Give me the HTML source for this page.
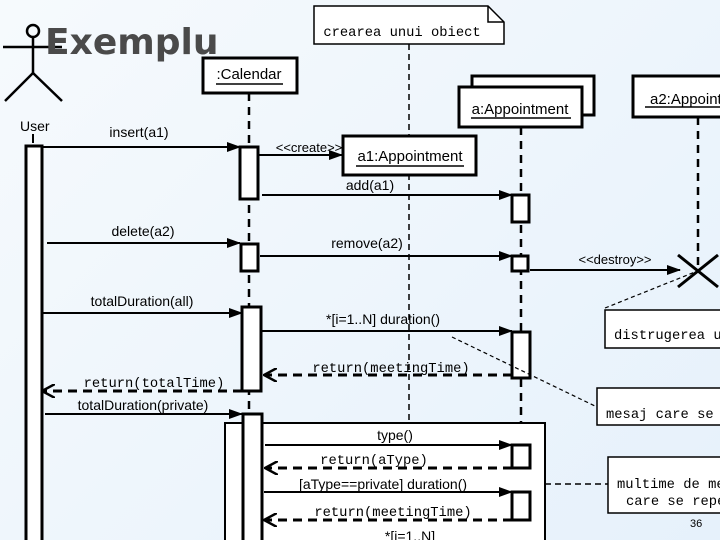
<!DOCTYPE html>
<html><head><meta charset="utf-8"><style>
html,body{margin:0;padding:0;}
body{width:720px;height:540px;overflow:hidden;background:linear-gradient(135deg,#f6fafd,#e6f1fb);}
svg{display:block}
.s{font-family:"Liberation Sans",sans-serif;font-size:14px;fill:#000}
.m{font-family:"Liberation Mono",monospace;font-size:13.8px;fill:#000}
</style></head><body>
<svg width="720" height="540" viewBox="0 0 720 540">
<defs>
<marker id="f" markerWidth="14" markerHeight="10" refX="13" refY="5" orient="auto" markerUnits="userSpaceOnUse"><path d="M0,0L14,5L0,10z" fill="#000"/></marker>
<marker id="o" markerWidth="14" markerHeight="14" refX="13" refY="7" orient="auto" markerUnits="userSpaceOnUse"><path d="M0,0L13,7L0,14" fill="none" stroke="#000" stroke-width="2.5"/></marker>
</defs>
<g stroke="#000" fill="none">
<circle cx="33" cy="31" r="6" stroke-width="2.5"/>
<line x1="33" y1="37" x2="33" y2="73" stroke-width="2.5"/>
<line x1="3" y1="47" x2="62" y2="47" stroke-width="2.5"/>
<line x1="33" y1="73" x2="5" y2="101" stroke-width="2.5"/>
<line x1="33" y1="73" x2="62" y2="101" stroke-width="2.5"/>
<line x1="33" y1="134" x2="33" y2="143" stroke-width="2"/>
<line x1="249" y1="93" x2="249" y2="540" stroke-width="2.5" stroke-dasharray="8,6"/>
<line x1="409" y1="44" x2="409" y2="540" stroke-width="1.5" stroke-dasharray="6,4"/>
<line x1="521" y1="127" x2="521" y2="540" stroke-width="2.5" stroke-dasharray="8,6"/>
<line x1="698" y1="117" x2="698" y2="268" stroke-width="2.5" stroke-dasharray="8,6"/>
</g>
<text x="45" y="54" style="font-family:'DejaVu Sans','Liberation Sans',sans-serif;font-weight:bold;font-size:36px;fill:#4a4a4a">Exemplu</text>
<g stroke="#000" fill="#fff">
<path d="M314,6H488L504,22V44H314Z" stroke-width="1.5"/>
<path d="M488,6V22H504" fill="none" stroke-width="1.5"/>
<rect x="203" y="58" width="94" height="35" stroke-width="3"/>
<rect x="343" y="136" width="133" height="39" stroke-width="3"/>
<rect x="472" y="76" width="122" height="39" stroke-width="3"/>
<rect x="459" y="87" width="123" height="40" stroke-width="3"/>
<rect x="633" y="76" width="100" height="41" stroke-width="3"/>
<rect x="26" y="146" width="16" height="400" stroke-width="3"/>
<rect x="225" y="423" width="320" height="130" stroke-width="2"/>
<rect x="240" y="147" width="18" height="52" stroke-width="3"/>
<rect x="241" y="244" width="17" height="27" stroke-width="3"/>
<rect x="242" y="307" width="19" height="84" stroke-width="3"/>
<rect x="243" y="414" width="19" height="140" stroke-width="3"/>
<rect x="512" y="195" width="17" height="27" stroke-width="3"/>
<rect x="512" y="256" width="16" height="15" stroke-width="3"/>
<rect x="512" y="332" width="18" height="46" stroke-width="3"/>
<rect x="512" y="445" width="18" height="23" stroke-width="3"/>
<rect x="512" y="492" width="18" height="28" stroke-width="3"/>
<rect x="605" y="310" width="130" height="38" stroke-width="1.5"/>
<rect x="597" y="388" width="130" height="37" stroke-width="1.5"/>
<rect x="608" y="457" width="130" height="56" stroke-width="1.5"/>
</g>
<g stroke="#000" fill="none">
<line x1="216" y1="84" x2="283" y2="84" stroke-width="1.5"/>
<line x1="356" y1="166" x2="464" y2="166" stroke-width="1.5"/>
<line x1="471" y1="118" x2="571" y2="118" stroke-width="1.5"/>
<line x1="645" y1="107" x2="720" y2="107" stroke-width="1.5"/>
<line x1="678" y1="255" x2="718" y2="287" stroke-width="3"/>
<line x1="678" y1="287" x2="718" y2="255" stroke-width="3"/>
<line x1="42" y1="147" x2="240" y2="147" stroke-width="2" marker-end="url(#f)"/>
<line x1="258" y1="155" x2="342" y2="155" stroke-width="2" marker-end="url(#f)"/>
<line x1="262" y1="195" x2="512" y2="195" stroke-width="2" marker-end="url(#f)"/>
<line x1="47" y1="243" x2="240" y2="243" stroke-width="2" marker-end="url(#f)"/>
<line x1="260" y1="256" x2="512" y2="256" stroke-width="2" marker-end="url(#f)"/>
<line x1="530" y1="270" x2="680" y2="270" stroke-width="2" marker-end="url(#f)"/>
<line x1="42" y1="313" x2="242" y2="313" stroke-width="2" marker-end="url(#f)"/>
<line x1="262" y1="331" x2="512" y2="331" stroke-width="2" marker-end="url(#f)"/>
<line x1="512" y1="375" x2="264" y2="375" stroke-width="3" stroke-dasharray="9,6" marker-end="url(#o)"/>
<line x1="242" y1="391" x2="42" y2="391" stroke-width="3" stroke-dasharray="9,6" marker-end="url(#o)"/>
<line x1="45" y1="414" x2="242" y2="414" stroke-width="2" marker-end="url(#f)"/>
<line x1="265" y1="445" x2="512" y2="445" stroke-width="2" marker-end="url(#f)"/>
<line x1="512" y1="468" x2="265" y2="468" stroke-width="3" stroke-dasharray="9,6" marker-end="url(#o)"/>
<line x1="264" y1="492" x2="512" y2="492" stroke-width="2" marker-end="url(#f)"/>
<line x1="512" y1="520" x2="264" y2="520" stroke-width="3" stroke-dasharray="9,6" marker-end="url(#o)"/>
<line x1="605" y1="308" x2="695" y2="272" stroke-width="1.2" stroke-dasharray="4,3"/>
<line x1="452" y1="337" x2="597" y2="407" stroke-width="1.2" stroke-dasharray="4,3"/>
<line x1="545" y1="484" x2="608" y2="484" stroke-width="1.5" stroke-dasharray="6,4"/>
</g>
<g class="s">
<text x="20" y="131">User</text>
<text x="249" y="79" text-anchor="middle" font-size="15">:Calendar</text>
<text x="410" y="161" text-anchor="middle" font-size="15">a1:Appointment</text>
<text x="520" y="114" text-anchor="middle" font-size="15">a:Appointment</text>
<text x="650" y="104" font-size="15">a2:Appointment</text>
<text x="139" y="137" text-anchor="middle">insert(a1)</text>
<text x="309" y="152" text-anchor="middle" font-size="13">&lt;&lt;create&gt;&gt;</text>
<text x="370" y="190" text-anchor="middle">add(a1)</text>
<text x="143" y="236" text-anchor="middle">delete(a2)</text>
<text x="367" y="248" text-anchor="middle">remove(a2)</text>
<text x="615" y="264" text-anchor="middle" font-size="13">&lt;&lt;destroy&gt;&gt;</text>
<text x="142" y="306" text-anchor="middle">totalDuration(all)</text>
<text x="383" y="324" text-anchor="middle">*[i=1..N] duration()</text>
<text x="143" y="410" text-anchor="middle">totalDuration(private)</text>
<text x="395" y="440" text-anchor="middle">type()</text>
<text x="383" y="489" text-anchor="middle">[aType==private] duration()</text>
<text x="410" y="541" text-anchor="middle">*[i=1..N]</text>
<text x="690" y="527" font-size="11">36</text>
</g>
<g class="m">
<text x="402" y="36" text-anchor="middle">crearea unui obiect</text>
<text x="391" y="372" text-anchor="middle">return(meetingTime)</text>
<text x="154" y="387" text-anchor="middle">return(totalTime)</text>
<text x="374" y="464" text-anchor="middle">return(aType)</text>
<text x="393" y="516" text-anchor="middle">return(meetingTime)</text>
<text x="614" y="339">distrugerea unui</text>
<text x="606" y="418">mesaj care se</text>
<text x="617" y="488">multime de mesaje</text>
<text x="626" y="505">care se repeta</text>
</g>
</svg>
</body></html>
